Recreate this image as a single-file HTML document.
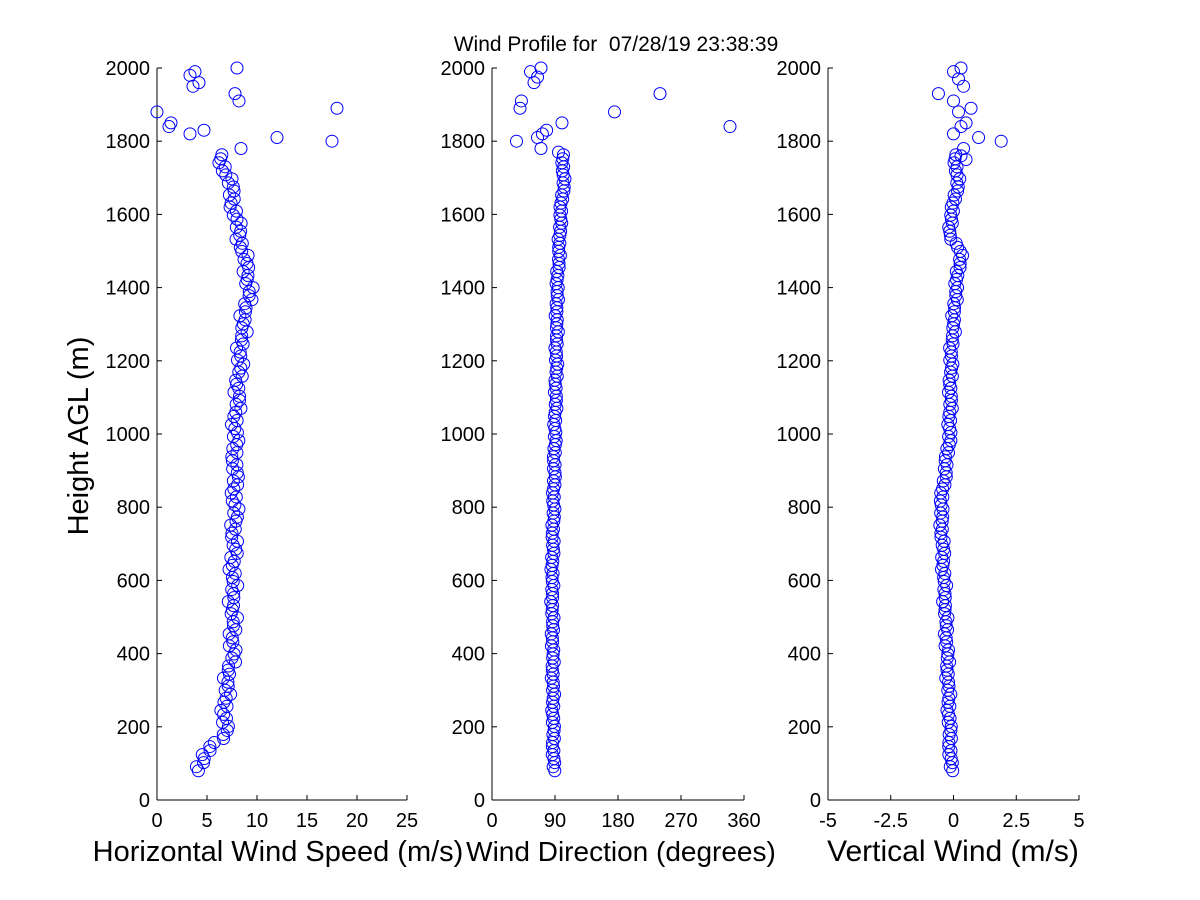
<!DOCTYPE html>
<html><head><meta charset="utf-8"><style>
html,body{margin:0;padding:0;background:#fff;}
svg{display:block;font-family:"Liberation Sans",sans-serif;}
</style></head><body>
<svg id="s" width="1200" height="900" xmlns="http://www.w3.org/2000/svg">
<rect width="1200" height="900" fill="#fff"/>
<text x="616" y="51" font-size="21" text-anchor="middle" style="white-space:pre">Wind Profile for  07/28/19 23:38:39</text>
<text transform="translate(88,436) rotate(-90)" font-size="29" text-anchor="middle">Height AGL (m)</text>
<text x="278" y="861" font-size="29" text-anchor="middle">Horizontal Wind Speed (m/s)</text>
<text x="621" y="861" font-size="28" text-anchor="middle">Wind Direction (degrees)</text>
<text x="953" y="861" font-size="30" text-anchor="middle">Vertical Wind (m/s)</text>
<g id="g"></g>
</svg>
<script>
var NS="http://www.w3.org/2000/svg",g=document.getElementById('g');
function el(t,a,txt){var e=document.createElementNS(NS,t);for(var k in a)e.setAttribute(k,a[k]);if(txt!==undefined)e.textContent=txt;g.appendChild(e);return e;}
function Y(h){return 800-h*0.366;}
var panels=[{x0:157,x1:407,min:0,max:25,ticks:[0,5,10,15,20,25]},
{x0:492,x1:744,min:0,max:360,ticks:[0,90,180,270,360]},
{x0:828,x1:1079,min:-5,max:5,ticks:[-5,-2.5,0,2.5,5]}];
panels.forEach(function(p){
 el('line',{x1:p.x0,y1:68,x2:p.x0,y2:800,stroke:'#000','stroke-width':1});
 el('line',{x1:p.x0,y1:800,x2:p.x1,y2:800,stroke:'#000','stroke-width':1});
 for(var h=0;h<=2000;h+=200){var y=Y(h);el('line',{x1:p.x0,y1:y,x2:p.x0+5,y2:y,stroke:'#000'});
  el('text',{x:p.x0-7,y:y+7,'font-size':20,'text-anchor':'end'},h);}
 p.ticks.forEach(function(t){var x=p.x0+(t-p.min)/(p.max-p.min)*(p.x1-p.x0);
  el('line',{x1:x,y1:800,x2:x,y2:795,stroke:'#000'});
  el('text',{x:x,y:827,'font-size':20,'text-anchor':'middle'},t);});
});
function interp(pts,h){for(var i=0;i<pts.length-1;i++){if(h<=pts[i+1][0]){var a=pts[i],b=pts[i+1];return a[1]+(b[1]-a[1])*(h-a[0])/(b[0]-a[0]);}}return pts[pts.length-1][1];}
var sp=[[80,3.8],[130,5],[180,6.8],[250,6.8],[320,7],[400,7.6],[600,7.6],[800,7.8],[1000,7.8],[1200,8.3],[1300,8.6],[1400,9.3],[1500,8.6],[1600,7.8],[1700,7.2],[1770,6]];
var dr=[[80,88],[600,86],[1000,90],[1200,92],[1400,93],[1500,96],[1600,98],[1700,103],[1770,100]];
var vw=[[80,-0.1],[400,-0.25],[800,-0.5],[1000,-0.15],[1200,-0.1],[1400,0.1],[1500,0.3],[1550,-0.2],[1700,0.2],[1770,0]];
function C(x,y){el('circle',{cx:x,cy:y,r:6,fill:'none',stroke:'#0000ff','stroke-width':1});}
var n=0;
for(var h=80;h<=1770;h+=11){n++;var j=Math.sin(n*2.3)*0.5+Math.sin(n*0.7)*0.3;
 C(157+(interp(sp,h)+j*0.6)*10,Y(h));
 C(492+(interp(dr,h)+j*3)*0.7,Y(h));
 C(953.5+(interp(vw,h)+j*0.12)*25.1,Y(h));}
[[3.3,1980],[3.8,1990],[3.6,1950],[4.2,1960],[8,2000],[7.8,1930],[8.2,1910],[0,1880],[1.2,1840],[1.4,1850],[3.3,1820],[4.7,1830],[12,1810],[17.5,1800],[18,1890],[8.4,1780]].forEach(function(d){C(157+d[0]*10,Y(d[1]));});
[[55,1990],[70,2000],[65,1975],[60,1960],[42,1910],[40,1890],[35,1800],[65,1810],[72,1820],[78,1830],[100,1850],[175,1880],[240,1930],[340,1840],[70,1780],[95,1770]].forEach(function(d){C(492+d[0]*0.7,Y(d[1]));});
[[0,1990],[0.2,1970],[0.3,2000],[0.4,1950],[-0.6,1930],[0,1910],[0.2,1880],[0.7,1890],[0.5,1850],[0.3,1840],[0,1820],[1,1810],[1.9,1800],[0.4,1780],[0.3,1760],[0.5,1750]].forEach(function(d){C(953.5+d[0]*25.1,Y(d[1]));});
</script>
</body></html>
